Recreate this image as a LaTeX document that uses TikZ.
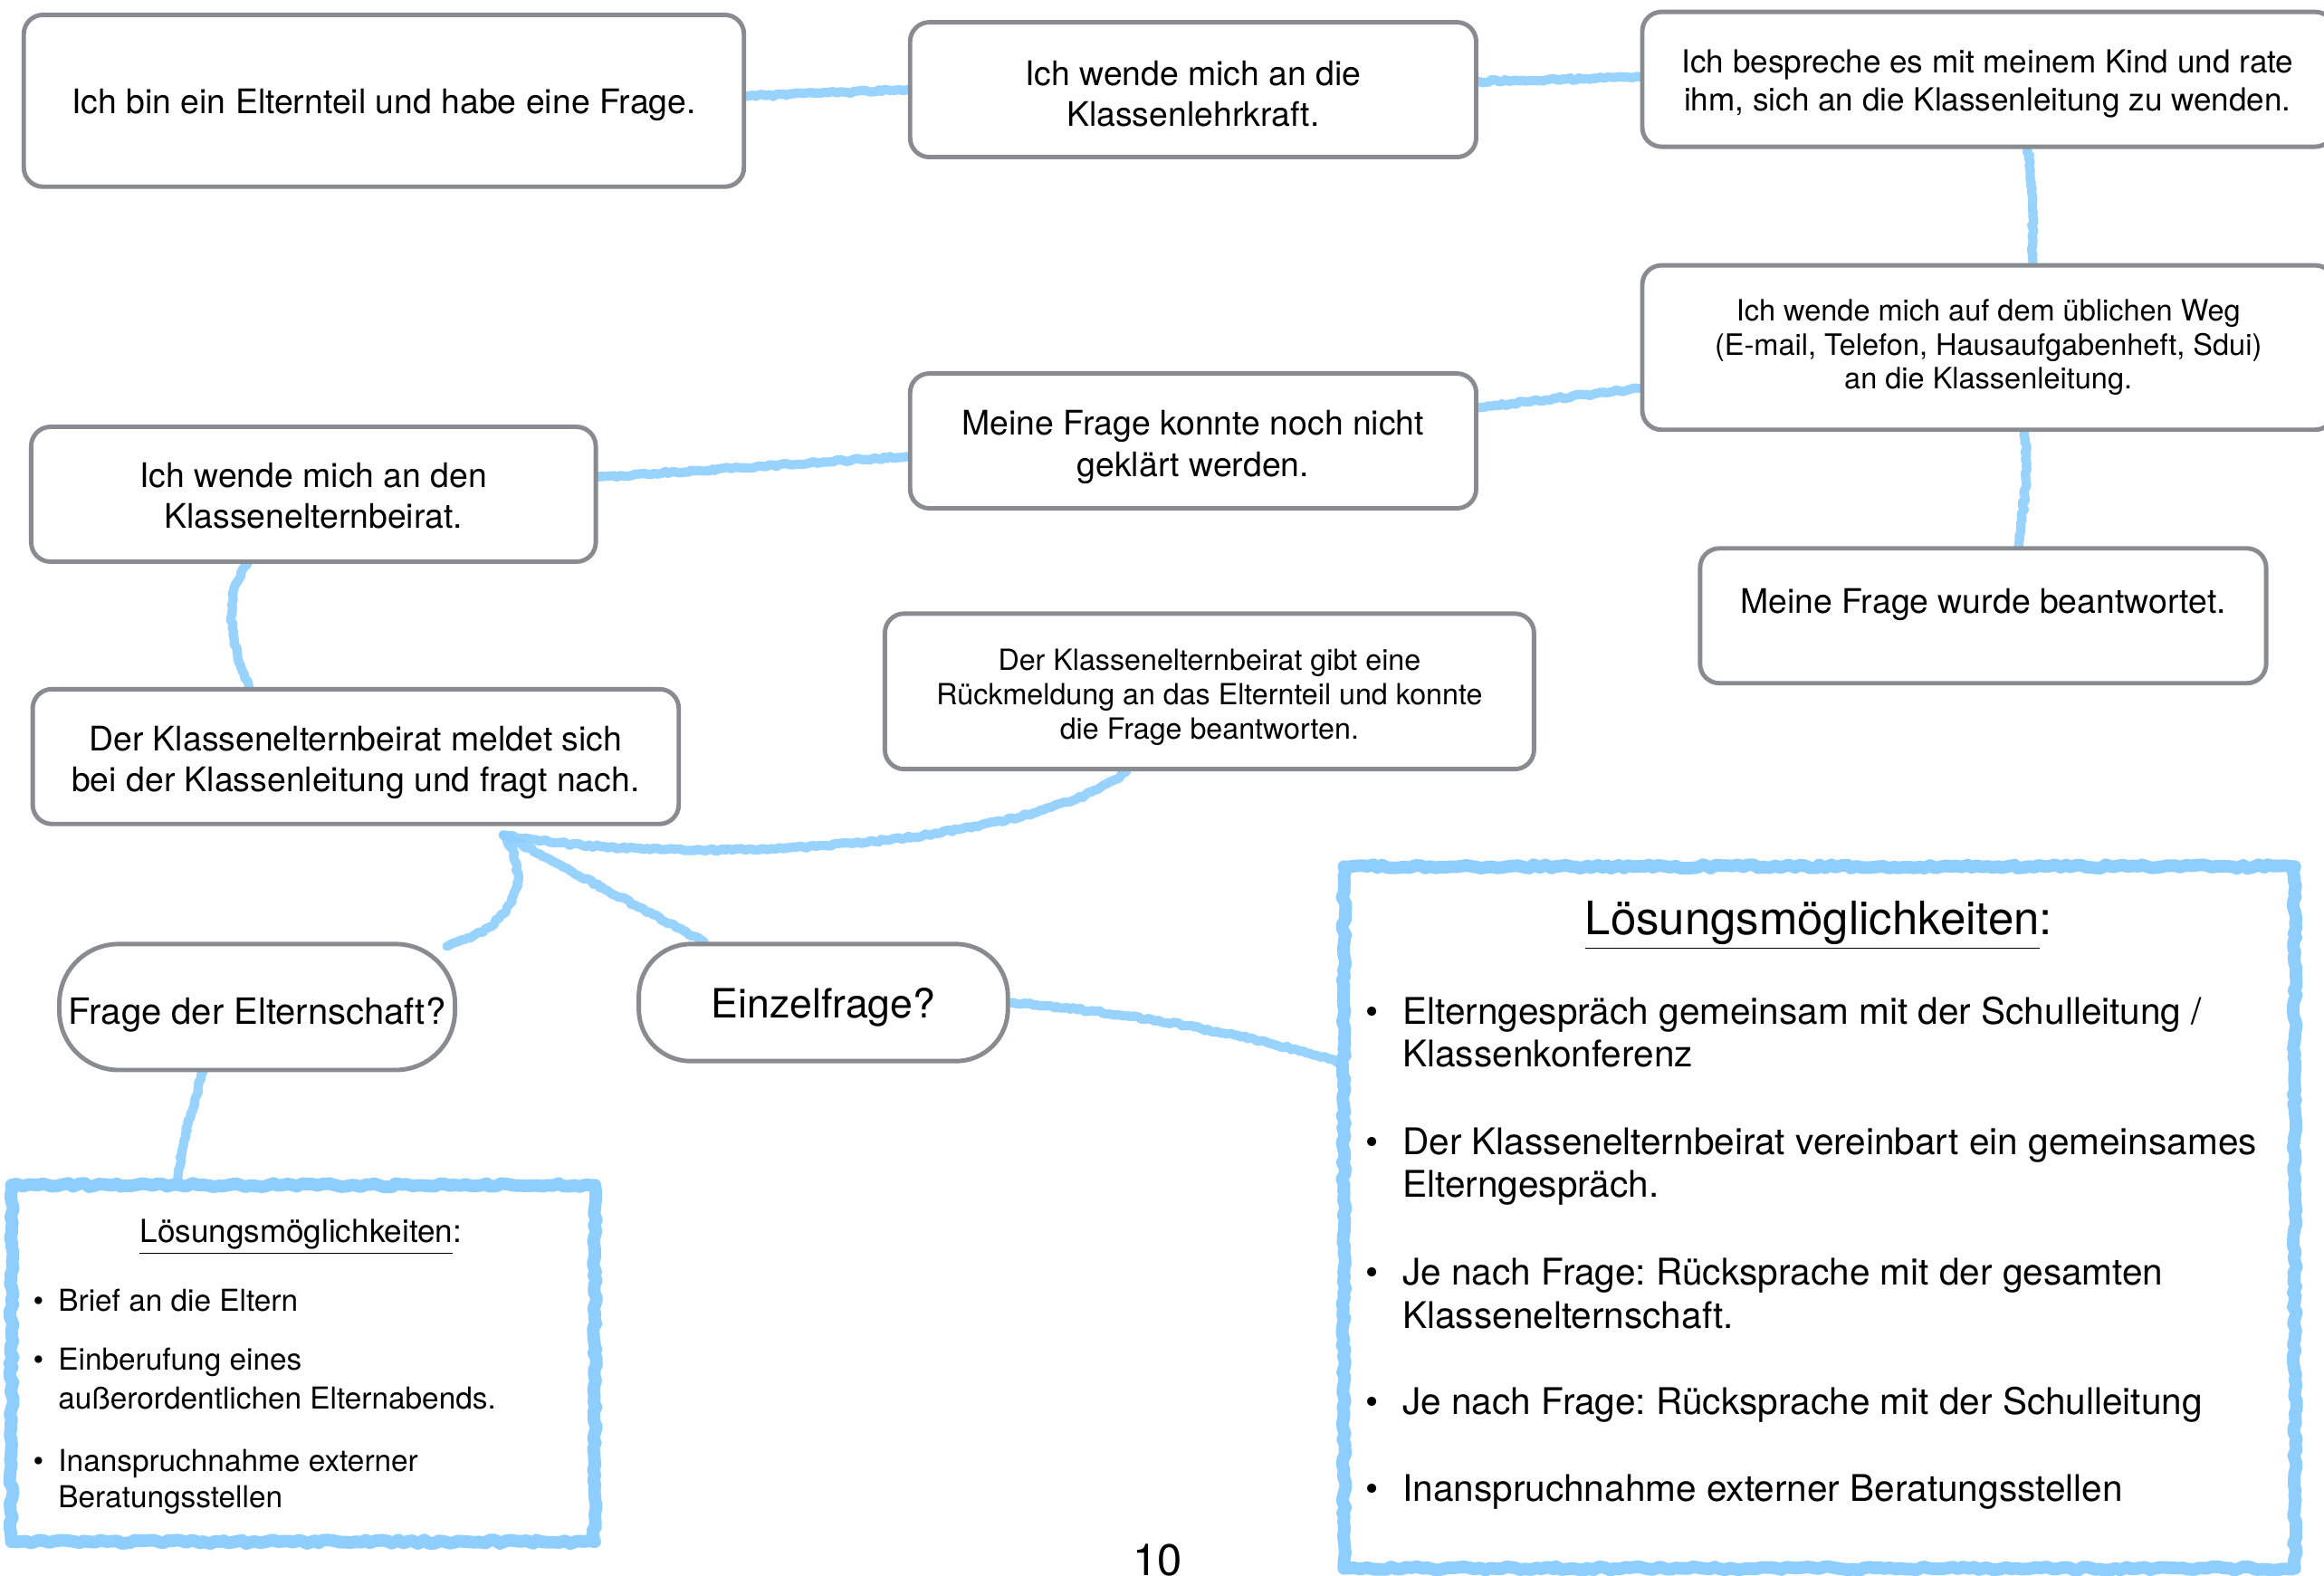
\documentclass[tikz,border=0pt]{standalone}
\usepackage{fontspec}
\setmainfont{TeX Gyre Heros}
\frenchspacing
\usetikzlibrary{calc,decorations.pathmorphing}
\definecolor{boxgray}{RGB}{136,139,143}
\definecolor{crayonblue}{RGB}{141,206,255}
\newcommand\myfs[2]{\fontsize{#1}{#2}\selectfont}
\pgfdeclarelayer{background}
\pgfsetlayers{background,main}
\tikzset{
  gbox/.style={draw=boxgray, line width=0.06cm, rounded corners=0.26cm, fill=white, inner sep=0pt},
  gtext/.style={inner sep=0pt, align=center, anchor=center},
  txt/.style={inner sep=0pt, align=left},
  crayon/.style={draw=crayonblue, opacity=0.9, line width=0.125cm, line cap=round, line join=round,
    decorate, decoration={random steps, segment length=1.3pt, amplitude=0.5pt}},
  sbox/.style={draw=crayonblue, line width=0.17cm, line join=round,
    decorate, decoration={random steps, segment length=2pt, amplitude=0.7pt}},
}
\begin{document}
\begin{tikzpicture}[x=0.02cm, y=-0.02cm]
\pgfmathsetseed{7}
\useasboundingbox (0,0) rectangle (1568,1063);
\clip (0,0) rectangle (1568,1063);

% gray boxes
\node[gbox, minimum width=9.72cm, minimum height=2.32cm] (b1) at (259,68) {};
\node[gbox, minimum width=7.64cm, minimum height=1.82cm] (b2) at (805,60.5) {};
\node[gbox, minimum width=9.34cm, minimum height=1.82cm] (b3) at (1341.5,53.5) {};
\node[gbox, minimum width=9.34cm, minimum height=2.22cm] (b4) at (1341.5,234.5) {};
\node[gbox, minimum width=7.64cm, minimum height=1.82cm] (b5) at (805,297.5) {};
\node[gbox, minimum width=7.62cm, minimum height=1.82cm] (b6) at (211.5,333.5) {};
\node[gbox, minimum width=7.64cm, minimum height=1.82cm] (b7) at (1338,415.5) {};
\node[gbox, minimum width=8.76cm, minimum height=2.10cm] (b8) at (816,466.5) {};
\node[gbox, minimum width=8.72cm, minimum height=1.82cm] (b9) at (240,510.5) {};
\node[gbox, rounded corners=0.8cm, minimum width=5.34cm, minimum height=1.70cm] (b10) at (173.5,679.5) {};
\node[gbox, rounded corners=0.7cm, minimum width=4.98cm, minimum height=1.58cm] (b11) at (555.5,676.5) {};

% box texts
\node[gtext, font=\myfs{13}{15.4}] (b1t) at (259,71) {Ich bin ein Elternteil und habe eine Frage.};
\node[gtext, font=\myfs{13}{15.6}] (b2t) at (805,63.5) {Ich wende mich an die\\Klassenlehrkraft.};
\node[gtext, font=\myfs{12.2}{14.8}] (b3t) at (1341,56.5) {Ich bespreche es mit meinem Kind und rate\\ihm, sich an die Klassenleitung zu wenden.};
\node[gtext, font=\myfs{11.3}{13.1}] (b4t) at (1341.5,234.5) {Ich wende mich auf dem üblichen Weg\\(E-mail, Telefon, Hausaufgabenheft, Sdui)\\an die Klassenleitung.};
\node[gtext, font=\myfs{13}{16}] (b5t) at (805,301.5) {Meine Frage konnte noch nicht\\geklärt werden.};
\node[gtext, font=\myfs{13}{15.9}] (b6t) at (211.5,334.5) {Ich wende mich an den\\Klassenelternbeirat.};
\node[gtext, font=\myfs{13}{15.6}] (b7t) at (1338,408) {Meine Frage wurde beantwortet.};
\node[gtext, font=\myfs{11.2}{13.1}] (b8t) at (816,470.5) {Der Klassenelternbeirat gibt eine\\Rückmeldung an das Elternteil und konnte\\die Frage beantworten.};
\node[gtext, font=\myfs{13}{15.9}] (b9t) at (240,514.5) {Der Klassenelternbeirat meldet sich\\bei der Klassenleitung und fragt nach.};
\node[gtext, font=\myfs{13.9}{16}] (b10t) at (173.5,684.5) {Frage der Elternschaft?};
\node[gtext, font=\myfs{15.5}{18}] (b11t) at (555.5,679.5) {Einzelfrage?};

% sketch boxes
\node[inner sep=0pt, minimum width=7.86cm, minimum height=4.8cm] (s1) at (204.5,920) {};
\node[inner sep=0pt, minimum width=12.82cm, minimum height=9.46cm] (s2) at (1227.5,821.5) {};
\draw[sbox] (s1.north west) rectangle (s1.south east);
\draw[sbox] (s2.north west) rectangle (s2.south east);

% small box text
\node[txt, anchor=mid, font=\myfs{12.2}{14}] (s1t) at (203,834) {\underline{Lösungsmöglichkeiten}:};
\begin{scope}[every node/.style={txt, font=\myfs{11.6}{14}}]
\node[anchor=mid] (s1b1) at (26,880) {•};
\node[anchor=mid] (s1b2) at (26,920) {•};
\node[anchor=mid] (s1b3) at (26,988) {•};
\node[anchor=mid west] (s1l1) at (39,880) {Brief an die Eltern};
\node[anchor=mid west] (s1l2) at (39,920) {Einberufung eines};
\node[anchor=mid west] (s1l3) at (39,946) {außerordentlichen Elternabends.};
\node[anchor=mid west] (s1l4) at (39,988) {Inanspruchnahme externer};
\node[anchor=mid west] (s1l5) at (39,1013) {Beratungsstellen};
\end{scope}

% big box text
\node[txt, anchor=mid, font=\myfs{17.7}{20}] (s2t) at (1227,626) {\underline{Lösungsmöglichkeiten}:};
\begin{scope}[every node/.style={txt, font=\myfs{14.1}{16.5}}]
\node[anchor=mid] (s2b1) at (926,686.5) {•};
\node[anchor=mid] (s2b2) at (926,774.5) {•};
\node[anchor=mid] (s2b3) at (926,862.5) {•};
\node[anchor=mid] (s2b4) at (926,949.5) {•};
\node[anchor=mid] (s2b5) at (926,1008.5) {•};
\node[anchor=mid west] (s2l1) at (946,686.5) {Elterngespräch gemeinsam mit der Schulleitung /};
\node[anchor=mid west] (s2l2) at (946,715.5) {Klassenkonferenz};
\node[anchor=mid west] (s2l3) at (946,774.5) {Der Klassenelternbeirat vereinbart ein gemeinsames};
\node[anchor=mid west] (s2l4) at (946,803.5) {Elterngespräch.};
\node[anchor=mid west] (s2l5) at (946,862.5) {Je nach Frage: Rücksprache mit der gesamten};
\node[anchor=mid west] (s2l6) at (946,891.5) {Klassenelternschaft.};
\node[anchor=mid west] (s2l7) at (946,949.5) {Je nach Frage: Rücksprache mit der Schulleitung};
\node[anchor=mid west] (s2l8) at (946,1008.5) {Inanspruchnahme externer Beratungsstellen};
\end{scope}

% page number
\node[txt, anchor=base, font=\myfs{17}{20}] (pn) at (781,1063) {10};

% connectors
\coordinate (j) at ([xshift=2cm,yshift=-0.12cm]b9.south);
\begin{pgfonlayer}{background}
\fill[white] (0,0) rectangle (1568,1063);
\draw[crayon] ([yshift=0.06cm]b1.east) -- (b2.west);
\draw[crayon] ([yshift=0.11cm]b2.east) -- ([yshift=0.03cm]b3.west);
\draw[crayon] ([xshift=0.53cm]b3.south) .. controls +(5,25) and +(-1,-25) .. ([xshift=0.6cm]b4.north);
\draw[crayon] ([yshift=-0.55cm]b4.west) -- ([yshift=0.45cm]b5.east);
\draw[crayon] ([xshift=0.49cm]b4.south) .. controls +(3,25) and +(3,-25) .. ([xshift=0.48cm]b7.north);
\draw[crayon] ([yshift=-0.21cm]b5.west) -- ([yshift=0.23cm]b6.east);
\draw[crayon] ([xshift=-0.89cm]b6.south) .. controls +(-18,25) and +(-12,-30) .. ([xshift=-1.44cm]b9.north);
\draw[crayon] ([xshift=-1.12cm]b8.south) .. controls +(-60,49) and +(130,23) .. (j);
\draw[crayon] (j) .. controls +(18,28) and +(50,-15) .. ([xshift=-0.14cm,yshift=-0.06cm]b10.north east);
\draw[crayon] (j) -- ([xshift=-1.61cm]b11.north);
\draw[crayon] (b11.east) .. controls +(70,5) and +(-60,-20) .. ([yshift=2.07cm]s2.west);
\draw[crayon] ([xshift=-0.73cm]b10.south) .. controls +(-8,25) and +(2,-25) .. ([xshift=-1.69cm]s1.north);
\end{pgfonlayer}
\end{tikzpicture}
\end{document}
